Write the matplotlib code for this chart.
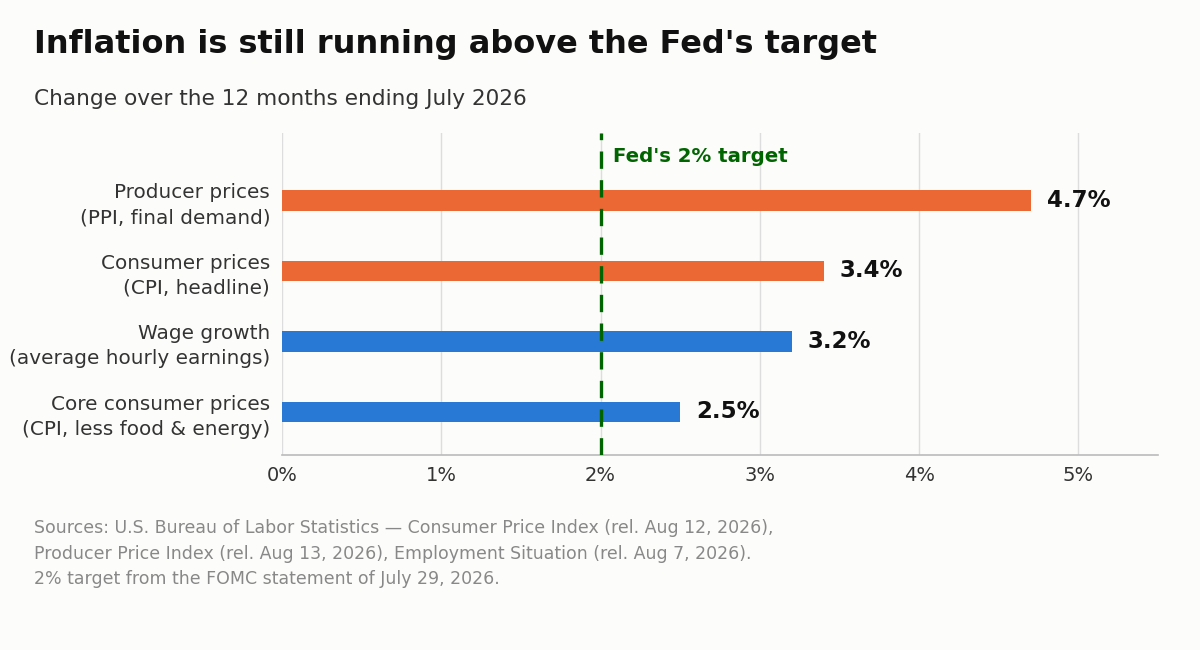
import matplotlib.pyplot as plt
from matplotlib.ticker import FuncFormatter

# Data
categories = [
    "Producer prices\n(PPI, final demand)",
    "Consumer prices\n(CPI, headline)",
    "Wage growth\n(average hourly earnings)",
    "Core consumer prices\n(CPI, less food & energy)",
]
values = [4.7, 3.4, 3.2, 2.5]
groups = ["price", "price", "wage", "wage"]
fed_target = 2.0
x_ticks = [0, 1, 2, 3, 4, 5]

title = "Inflation is still running above the Fed's target"
subtitle = "Change over the 12 months ending July 2026"
source = ("Sources: U.S. Bureau of Labor Statistics \u2014 Consumer Price Index (rel. Aug 12, 2026),\n"
          "Producer Price Index (rel. Aug 13, 2026), Employment Situation (rel. Aug 7, 2026).\n"
          "2% target from the FOMC statement of July 29, 2026.")

bg = "#fcfcfa"
colors = {"price": "#eb6834", "wage": "#2878d6"}
green = "#006400"

fig = plt.figure(figsize=(12, 6.5), dpi=100, facecolor=bg)
ax = fig.add_axes([0.235, 0.30, 0.73, 0.495], facecolor=bg)

ypos = list(range(len(categories)))[::-1]
ax.barh(ypos, values, height=0.29, color=[colors[g] for g in groups], zorder=2)

for y, v in zip(ypos, values):
    ax.text(v + 0.1, y, f"{v}%", va="center", ha="left", fontsize=16.5,
            fontweight="bold", color="#111111")

# Fed target line
ax.axvline(fed_target, color=green, lw=2.4, ls=(0, (5.2, 3.4)), zorder=3)
ax.text(fed_target + 0.08, 3.62, "Fed's 2% target", color=green,
        fontsize=14.2, fontweight="bold", va="center", ha="left")

ax.set_xlim(0, 5.5)
ax.set_ylim(-0.61, 3.95)
ax.set_xticks(x_ticks)
ax.xaxis.set_major_formatter(FuncFormatter(lambda x, p: f"{x:.0f}%"))
ax.set_yticks(ypos)
ax.set_yticklabels(categories, linespacing=1.4)
ax.tick_params(axis="x", length=0, labelsize=14, colors="#333333", pad=8)
ax.tick_params(axis="y", length=0, labelsize=14.4, colors="#333333", pad=8.5)
ax.grid(axis="x", color="#dddddd", lw=1, zorder=0)

for s in ["top", "right", "left"]:
    ax.spines[s].set_visible(False)
ax.spines["bottom"].set_color("#bbbbbb")
ax.spines["bottom"].set_linewidth(1.2)

fig.text(0.028, 0.932, title, fontsize=23, fontweight="bold", color="#111111",
         va="center", ha="left")
fig.text(0.028, 0.847, subtitle, fontsize=15.6, color="#333333", va="center", ha="left")
fig.text(0.028, 0.148, source, fontsize=12.5, color="#888888", va="center",
         ha="left", linespacing=1.55)

fig.savefig("out.png", dpi=100, facecolor=bg)
